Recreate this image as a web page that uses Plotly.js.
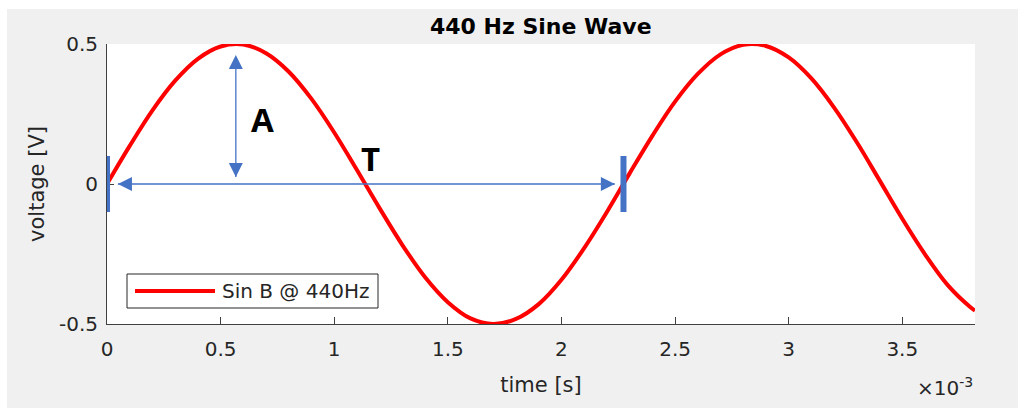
<!DOCTYPE html>
<html>
<head>
<meta charset="utf-8">
<script src="https://cdn.plot.ly/plotly-3.0.1.min.js"></script>
<style>
html,body{margin:0;padding:0;background:#ffffff;}
#chart{position:absolute;left:7px;top:9px;width:1011px;height:399px;}
</style>
</head>
<body>
<div id="chart"></div>
<script>
// time in seconds (sampled every 0.1 ms), voltage in volts
const timeS = [0,0.0001,0.0002,0.0003,0.0004,0.0005,0.0006,0.0007,0.0008,0.0009,
  0.0010,0.0011,0.0012,0.0013,0.0014,0.0015,0.0016,0.0017,0.0018,0.0019,
  0.0020,0.0021,0.0022,0.0023,0.0024,0.0025,0.0026,0.0027,0.0028,0.0029,
  0.0030,0.0031,0.0032,0.0033,0.0034,0.0035,0.0036,0.0037,0.0038,0.00382];
const voltage = [0,0.136,0.263,0.369,0.447,0.491,0.498,0.467,0.401,0.304,
  0.184,0.050,-0.087,-0.218,-0.333,-0.422,-0.480,-0.500,-0.482,-0.429,
  -0.342,-0.229,-0.100,0.038,0.172,0.294,0.393,0.463,0.497,0.493,
  0.452,0.377,0.273,0.149,0.013,-0.124,-0.251,-0.361,-0.440,-0.452];
const xTickVals = [0,0.0005,0.001,0.0015,0.002,0.0025,0.003,0.0035];
const xTickText = ['0','0.5','1','1.5','2','2.5','3','3.5'];
const yTickVals = [-0.5,0,0.5];
const yTickText = ['-0.5','0','0.5'];
const seriesName = 'Sin B @ 440Hz';
// amplitude arrow (vertical) and period arrow (horizontal), data units
const ampArrowX = [0.000567, 0.000567];
const ampArrowY = [0.025, 0.461];
const perArrowX = [0.000048, 0.002235];
const perArrowY = [0, 0];
const barX = [0, 0.002273];
const barHalf = 0.1;

const blue = '#4472C4';
const axisCol = '#404040';
const txtCol = '#262626';
const font = 'DejaVu Sans, Liberation Sans, sans-serif';

const traces = [
  {x: timeS, y: voltage, type: 'scatter', mode: 'lines',
   line: {color: '#ff0000', width: 4, shape: 'spline', smoothing: 1},
   name: seriesName, showlegend: false, hoverinfo: 'x+y'},
  {x: ampArrowX, y: ampArrowY, type: 'scatter', mode: 'lines+markers',
   line: {color: blue, width: 1.3},
   marker: {symbol: ['arrow-down', 'arrow-up'], size: 14, color: blue, line: {width: 0}},
   showlegend: false, hoverinfo: 'skip', name: 'A'},
  {x: perArrowX, y: perArrowY, type: 'scatter', mode: 'lines+markers',
   line: {color: blue, width: 1.3},
   marker: {symbol: ['arrow-left', 'arrow-right'], size: 14, color: blue, line: {width: 0}},
   showlegend: false, hoverinfo: 'skip', name: 'T'}
];

const shapes = barX.map(bx => ({
  type: 'line', xref: 'x', yref: 'y', x0: bx, x1: bx, y0: -barHalf, y1: barHalf,
  line: {color: blue, width: 6}
}));
// legend box and sample line
shapes.push({type: 'rect', xref: 'paper', yref: 'paper',
  x0: 20/868, x1: 271/868, y0: 16/280, y1: 50/280,
  fillcolor: '#ffffff', line: {color: txtCol, width: 1}});
shapes.push({type: 'line', xref: 'paper', yref: 'paper',
  x0: 28/868, x1: 108/868, y0: 33/280, y1: 33/280,
  line: {color: '#ff0000', width: 4}});

const annotations = [
  {x: 0.000685, y: 0.23, xref: 'x', yref: 'y', text: '<b>A</b>', showarrow: false,
   font: {family: 'Open Sans, Liberation Sans, sans-serif', size: 33, color: '#000'}},
  {x: 0.00116, y: 0.092, xref: 'x', yref: 'y', text: '<b>T</b>', showarrow: false,
   font: {family: 'Open Sans, Liberation Sans, sans-serif', size: 33, color: '#000'}},
  {x: 1, y: -63/280, xref: 'paper', yref: 'paper', text: '×10<sup>-3</sup>',
   showarrow: false, xanchor: 'right', yanchor: 'middle', font: {family: font, size: 20, color: txtCol}},
  // legend text
  {x: 264/868, y: 33/280, xref: 'paper', yref: 'paper', xanchor: 'right', yanchor: 'middle',
   text: seriesName, showarrow: false, font: {family: font, size: 20, color: txtCol}}
];

const layout = {
  width: 1011, height: 399,
  margin: {l: 100, r: 43, t: 35, b: 84, pad: 0},
  paper_bgcolor: '#f0f0f0', plot_bgcolor: '#ffffff',
  title: {text: '<b>440 Hz Sine Wave</b>', font: {family: font, size: 22, color: '#000'},
    x: 0.528, xref: 'container', xanchor: 'center', y: 1 - 17.7/399, yref: 'container', yanchor: 'middle'},
  xaxis: {range: [0, 0.00382], tickvals: xTickVals, ticktext: xTickText, ticks: 'inside', ticklen: 7,
    tickcolor: axisCol, showline: true, linecolor: axisCol, linewidth: 1, showgrid: false, zeroline: false,
    tickfont: {family: font, size: 20, color: txtCol}, ticklabelstandoff: 7, fixedrange: true,
    title: {text: 'time [s]', font: {family: font, size: 21, color: txtCol}, standoff: 17}, automargin: true},
  yaxis: {range: [-0.5, 0.5], tickvals: yTickVals, ticktext: yTickText, ticks: 'inside', ticklen: 7,
    tickcolor: axisCol, showline: true, linecolor: axisCol, linewidth: 1, showgrid: false, zeroline: false,
    tickfont: {family: font, size: 20, color: txtCol}, ticklabelstandoff: 4, fixedrange: true,
    title: {text: 'voltage [V]', font: {family: font, size: 21, color: txtCol}, standoff: 8}, automargin: true},
  shapes: shapes, annotations: annotations, showlegend: false
};

Plotly.newPlot('chart', traces, layout, {displayModeBar: false});
</script>
</body>
</html>
